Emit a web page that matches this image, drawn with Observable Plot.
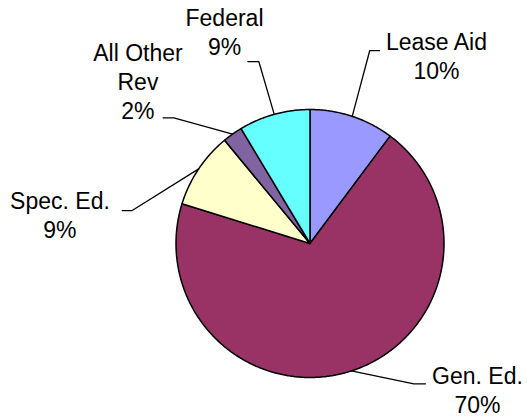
<!DOCTYPE html>
<html>
<head>
<meta charset="utf-8">
<script src="https://cdn.jsdelivr.net/npm/d3@7"></script>
<script src="https://cdn.jsdelivr.net/npm/@observablehq/plot@0.6"></script>
<style>
  html, body { margin: 0; padding: 0; background: #fff; }
  #chart svg { display: block; }
</style>
</head>
<body>
<div id="chart"></div>
<script>
// ---- data (clockwise from 12 o'clock) ----
const categories = ["Lease Aid", "Gen. Ed.", "Spec. Ed.", "All Other\nRev", "Federal"];
const shares = [10.2, 69.6, 9.2, 2.4, 8.6];

// ---- styles ----
const colors = ["#9999FF", "#993366", "#FFFFCC", "#8064A2", "#66FFFF"];

// ---- label layout (unit-radius coords, y up) ----
const labelPos = [[0.944, 1.600], [1.25, -0.893], [-1.866, 0.411], [-1.284, 1.513], [-0.638, 1.774]];
const elbowPos = [[0.446, 1.440], [0.775, -1.047], [-1.327, 0.246], [-1.016, 0.938], [-0.382, 1.358]];
const stubEndX = [0.519, 0.862, -1.401, -1.096, -0.464];

const W = 527, H = 417, cx = 309.5, cy = 243, R = 134;
const total = d3.sum(shares);

// build slice polygons
let acc = 0;
const slices = shares.map((v, i) => {
  const a0 = acc / total * 2 * Math.PI;
  acc += v;
  const a1 = acc / total * 2 * Math.PI;
  const pts = [{x: 0, y: 0}];
  const n = Math.max(2, Math.ceil((a1 - a0) / (Math.PI / 360)));
  for (let k = 0; k <= n; k++) {
    const a = a0 + (a1 - a0) * k / n;
    pts.push({x: Math.sin(a), y: Math.cos(a)});
  }
  pts.push({x: 0, y: 0});
  return {pts, mid: (a0 + a1) / 2, color: colors[i]};
});

const leaders = [];
slices.forEach((s, i) => {
  leaders.push({id: i, x: Math.sin(s.mid), y: Math.cos(s.mid)});
  leaders.push({id: i, x: elbowPos[i][0], y: elbowPos[i][1]});
  leaders.push({id: i, x: stubEndX[i], y: elbowPos[i][1]});
});

const labels = categories.map((c, i) => ({
  text: c + "\n" + Math.round(shares[i]) + "%",
  x: labelPos[i][0],
  y: labelPos[i][1]
}));

const chart = Plot.plot({
  width: W,
  height: H,
  margin: 0,
  style: {background: "#fff", fontFamily: "Liberation Sans, Arial, sans-serif"},
  x: {domain: [-cx / R, (W - cx) / R], axis: null},
  y: {domain: [(cy - H) / R, cy / R], axis: null},
  marks: [
    ...slices.map(s => Plot.line(s.pts, {x: "x", y: "y", fill: s.color, stroke: "#000", strokeWidth: 1.5, strokeLinejoin: "round"})),
    Plot.line(leaders, {x: "x", y: "y", z: "id", stroke: "#000", strokeWidth: 1.3}),
    Plot.text(labels, {x: "x", y: "y", text: "text", textAnchor: "middle", lineAnchor: "top", lineHeight: 1.26, fontSize: 23, fill: "#000"})
  ]
});
document.getElementById("chart").appendChild(chart);
</script>
</body>
</html>
